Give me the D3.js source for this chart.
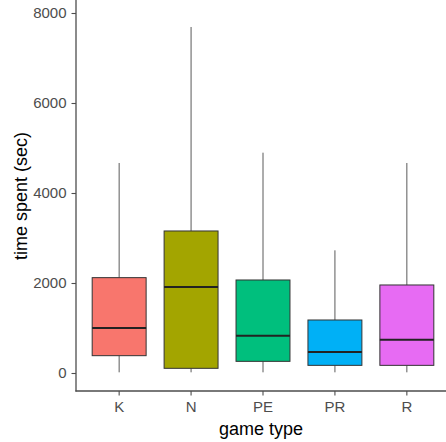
<!DOCTYPE html>
<html>
<head>
<meta charset="utf-8">
<script src="https://cdn.jsdelivr.net/npm/d3@7"></script>
<style>
  html, body { margin: 0; padding: 0; background: #fff; }
  svg { display: block; font-family: "Liberation Sans", Arial, sans-serif; }
</style>
</head>
<body>
<svg id="chart" width="446" height="442"></svg>
<script>
// Game types and their box-plot summaries (seconds)
const categories = ["K", "N", "PE", "PR", "R"];
const whiskerLow = [15, 15, 15, 15, 15];
const q1 = [385, 104, 259, 170, 170];
const median = [1000, 1911, 830, 467, 741];
const q3 = [2119, 3156, 2067, 1178, 1956];
const whiskerHigh = [4667, 7689, 4896, 2726, 4667];
const fills = ["#F8766D", "#A3A500", "#00BF7D", "#00B0F6", "#E76BF3"];
const yTicks = [0, 2000, 4000, 6000, 8000];

const svg = d3.select("#chart");
const panel = { left: 76, right: 450, top: 0, bottom: 391 };

const x = d3.scaleBand()
  .domain(categories)
  .range([panel.left, panel.right])
  .paddingOuter(0.1)
  .paddingInner(0);

const y = d3.scaleLinear()
  .domain([0, 8000])
  .range([373, 13]);

const boxW = x.bandwidth() * 0.75;

const rows = categories.map((c, i) => ({
  c, lo: whiskerLow[i], q1: q1[i], med: median[i], q3: q3[i], hi: whiskerHigh[i], fill: fills[i]
}));

const g = svg.append("g");
const box = g.selectAll("g.box").data(rows).join("g").attr("class", "box")
  .attr("transform", d => `translate(${x(d.c) + x.bandwidth() / 2},0)`);

// whiskers
box.append("line").attr("x1", 0).attr("x2", 0)
  .attr("y1", d => y(d.q3)).attr("y2", d => y(d.hi))
  .attr("stroke", "#5a5a5a").attr("stroke-width", 1);
box.append("line").attr("x1", 0).attr("x2", 0)
  .attr("y1", d => y(d.lo)).attr("y2", d => y(d.q1))
  .attr("stroke", "#5a5a5a").attr("stroke-width", 1);

// boxes
box.append("rect")
  .attr("x", -boxW / 2).attr("width", boxW)
  .attr("y", d => y(d.q3)).attr("height", d => y(d.q1) - y(d.q3))
  .attr("fill", d => d.fill)
  .attr("stroke", "#333").attr("stroke-width", 1);

// medians
box.append("line")
  .attr("x1", -boxW / 2).attr("x2", boxW / 2)
  .attr("y1", d => y(d.med)).attr("y2", d => y(d.med))
  .attr("stroke", "#222").attr("stroke-width", 2);

// y axis
const yAxis = svg.append("g")
  .attr("transform", `translate(${panel.left},0)`)
  .call(d3.axisLeft(y).tickValues(yTicks).tickSize(4.5).tickPadding(5).tickFormat(d3.format("d")));
yAxis.select(".domain").remove();
yAxis.append("line").attr("x1", 0).attr("x2", 0).attr("y1", panel.top).attr("y2", panel.bottom + 0.5)
  .attr("stroke", "#4d4d4d").attr("stroke-width", 1.3);

// x axis
const xAxis = svg.append("g")
  .attr("transform", `translate(0,${panel.bottom})`)
  .call(d3.axisBottom(x).tickSize(4.5).tickPadding(6));
xAxis.select(".domain").remove();
xAxis.append("line").attr("x1", panel.left - 0.6).attr("x2", 446).attr("y1", 0).attr("y2", 0)
  .attr("stroke", "#4d4d4d").attr("stroke-width", 1.3);

svg.selectAll(".tick line").attr("stroke", "#4d4d4d").attr("stroke-width", 1.1);
svg.selectAll(".tick text").attr("fill", "#4d4d4d").style("font-size", "15px")
  .style("font-family", "'Liberation Sans', Arial, sans-serif");

// axis titles
svg.append("text")
  .attr("x", (panel.left + panel.right) / 2 - 2).attr("y", 435)
  .attr("text-anchor", "middle")
  .style("font-size", "18px").attr("fill", "#000")
  .text("game type");

svg.append("text")
  .attr("transform", `translate(27,${196}) rotate(-90)`)
  .attr("text-anchor", "middle")
  .style("font-size", "18px").attr("fill", "#000")
  .text("time spent (sec)");
</script>
</body>
</html>
